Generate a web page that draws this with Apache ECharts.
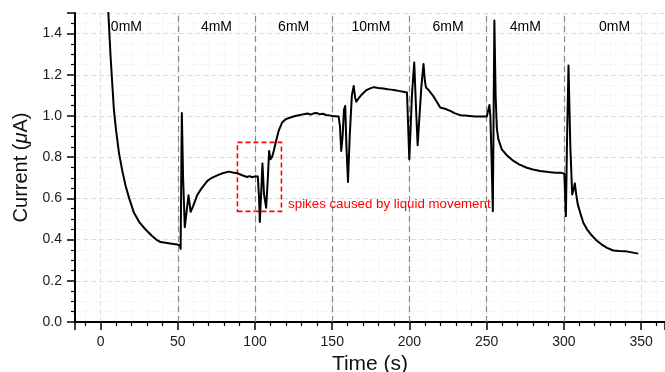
<!DOCTYPE html>
<html>
<head>
<meta charset="utf-8">
<script src="https://cdn.jsdelivr.net/npm/echarts@6/dist/echarts.min.js"></script>
<style>
html,body{margin:0;padding:0;background:#fff;}
#chart{width:665px;height:372px;}
</style>
</head>
<body>
<div id="chart"></div>
<script>
// ---- data ----
const timeS = [
  4, 5, 6.5, 8.6, 10, 11.9, 14, 16.2, 18.5, 21.6, 25, 29.1, 33, 36, 38.8, 42, 46, 49.6, 51.3,
  51.8, 52.6, 53.4, 54.5, 55.3, 56.9, 58.3, 60, 62.5, 65, 69, 72, 75.5, 79, 83, 85.5, 88.4, 90.5, 92.5, 94.9, 96.5, 98, 100, 101.8,
  102.6, 103.1, 103.8, 104.8, 105.8, 107.2, 108.3, 109.1, 110, 111, 112.1, 113.5, 115.3, 117.5, 120, 122.9, 126, 128.5, 131.5, 134, 136, 138, 140.2, 142, 144, 146, 148, 150, 152, 154.1,
  155, 155.8, 156.7, 157.6, 158.4, 159.2, 160.2, 161.3, 162.7, 163.9, 164.8, 165.6, 167, 169.3, 172, 174.6, 177, 180, 183, 186, 188, 190.8, 193, 196, 198.4, 199.3,
  199.9, 200.8, 201.6, 203.1, 204.2, 205.3, 206.5, 207.8, 209.1, 210, 210.7, 212.5, 215.6, 218, 219.9, 223, 226.4, 229.5, 232.9, 236, 239, 242.6, 246, 250.1, 251.3,
  251.8, 252.4, 253.3, 254, 254.5, 255, 255.8, 256.6, 257.6, 259.8, 263, 267.4, 271, 276, 280, 284.6, 290, 294.3, 298.6, 300.3,
  300.9, 301.3, 302.1, 303, 304.2, 305.4, 306.2, 307.1, 308, 309, 310.8, 312.6, 315, 318, 321, 324.5, 328, 332, 336, 339.6, 344, 348.2
];
const currentUA = [
  1.66, 1.50, 1.28, 1.03, 0.93, 0.82, 0.735, 0.66, 0.60, 0.53, 0.485, 0.449, 0.42, 0.40, 0.388, 0.385, 0.38, 0.376, 0.372,
  0.355, 1.014, 0.70, 0.46, 0.457, 0.615, 0.535, 0.565, 0.615, 0.645, 0.684, 0.70, 0.712, 0.722, 0.73, 0.726, 0.722, 0.716, 0.71, 0.704, 0.708, 0.703, 0.707, 0.706,
  0.60, 0.485, 0.60, 0.77, 0.62, 0.555, 0.70, 0.83, 0.79, 0.80, 0.83, 0.875, 0.928, 0.968, 0.985, 0.993, 1.0, 1.004, 1.009, 1.012, 1.007, 1.013, 1.014, 1.008, 1.011, 1.005, 1.003, 1.0, 0.999, 0.998,
  0.95, 0.83, 0.90, 1.03, 1.049, 0.85, 0.68, 0.90, 1.10, 1.146, 1.09, 1.069, 1.085, 1.106, 1.125, 1.134, 1.14, 1.136, 1.134, 1.13, 1.128, 1.125, 1.122, 1.118, 1.114, 1.114,
  0.79, 0.95, 1.10, 1.26, 1.05, 0.858, 1.0, 1.15, 1.252, 1.17, 1.139, 1.125, 1.095, 1.065, 1.041, 1.035, 1.025, 1.013, 1.004, 1.002, 1.0, 0.998, 0.998, 0.998, 0.998,
  1.053, 1.0, 0.757, 0.538, 1.0, 1.463, 1.1, 0.94, 0.887, 0.838, 0.81, 0.782, 0.765, 0.749, 0.74, 0.733, 0.728, 0.725, 0.724, 0.72,
  0.60, 0.514, 0.9, 1.245, 0.85, 0.619, 0.64, 0.673, 0.62, 0.571, 0.525, 0.482, 0.45, 0.421, 0.397, 0.376, 0.36, 0.347, 0.345, 0.344, 0.338, 0.332
];
const changeTimes = [50, 100, 150, 200, 250, 300];
const concLabels = ['0mM', '4mM', '6mM', '10mM', '6mM', '4mM', '0mM'];
const concLabelX = [16.7, 75, 125, 175, 225, 275, 332.8];
const concLabelY = 1.432;
const xTickStep = 50;
const yTickStep = 0.2;
const annotationText = 'spikes caused by liquid movement';
const annotationBox = [[88.6, 0.537], [117.1, 0.872]];
const annotationTextPos = [121.4, 0.571];

// ---- chart ----
const FONT = 'Liberation Sans, Arial, Helvetica, sans-serif';
const chart = echarts.init(document.getElementById('chart'), null, {renderer: 'canvas'});
const lineData = timeS.map((t, i) => [t, currentUA[i]]);

chart.setOption({
  animation: false,
  backgroundColor: '#ffffff',
  textStyle: {fontFamily: FONT},
  grid: {left: 75, right: 0, top: 13, bottom: 50, containLabel: false, outerBoundsMode: 'none'},
  xAxis: {
    type: 'value',
    min: -16.6, max: 365.5,
    minInterval: xTickStep, maxInterval: xTickStep,
    name: 'Time (s)', nameLocation: 'middle', nameGap: 28,
    nameTextStyle: {fontSize: 21, color: '#111', fontFamily: FONT},
    axisLine: {onZero: false, lineStyle: {color: '#000', width: 2}},
    axisTick: {show: true, inside: false, length: 8, lineStyle: {color: '#000', width: 1.5}},
    minorTick: {show: true, splitNumber: 5, length: 4, lineStyle: {color: '#000', width: 1.2}},
    axisLabel: {
      showMinLabel: false, showMaxLabel: false, margin: 13, fontSize: 14, color: '#1a1a1a', fontFamily: FONT,
      formatter: v => (Math.abs(v % xTickStep) < 1e-6 ? String(Math.round(v)) : '')
    },
    splitLine: {show: true, lineStyle: {color: '#dedede', type: [5, 3], width: 1}},
    minorSplitLine: {show: true, lineStyle: {color: '#ececec', type: [1, 2], width: 1}}
  },
  yAxis: {
    type: 'value',
    min: 0, max: 1.5, interval: yTickStep,
    name: 'Current ({i|μ}A)', nameLocation: 'middle', nameGap: 39,
    nameTextStyle: {fontSize: 20, color: '#111', fontFamily: FONT,
      rich: {i: {fontStyle: 'italic', fontSize: 20, color: '#111', fontFamily: FONT}}},
    axisLine: {show: true, onZero: false, lineStyle: {color: '#000', width: 2}},
    axisTick: {show: true, inside: false, length: 8, lineStyle: {color: '#000', width: 1.5}},
    minorTick: {show: true, splitNumber: 4, length: 4, lineStyle: {color: '#000', width: 1.2}},
    axisLabel: {
      showMaxLabel: false, margin: 13, fontSize: 14, color: '#1a1a1a', fontFamily: FONT,
      formatter: v => (v > 1.45 ? '' : v.toFixed(1))
    },
    splitLine: {show: true, lineStyle: {color: '#dedede', type: [5, 3], width: 1}},
    minorSplitLine: {show: true, lineStyle: {color: '#ececec', type: [1, 2], width: 1}}
  },
  series: [
    {
      type: 'line',
      data: lineData,
      showSymbol: false,
      symbol: 'none',
      clip: true,
      silent: true,
      z: 5,
      lineStyle: {color: '#000', width: 2, join: 'round'},
      markLine: {
        silent: true,
        symbol: ['none', 'none'],
        label: {show: false},
        lineStyle: {color: '#888', type: [6, 4], width: 1.2},
        emphasis: {disabled: true},
        data: changeTimes.map(t => ({xAxis: t}))
      },
      markArea: {
        silent: true,
        itemStyle: {color: 'rgba(0,0,0,0)', borderColor: '#ff0000', borderWidth: 1.6, borderType: [5, 3]},
        label: {show: false},
        data: [[{coord: annotationBox[0]}, {coord: annotationBox[1]}]]
      }
    },
    {
      type: 'scatter',
      silent: true,
      symbolSize: 0,
      z: 6,
      itemStyle: {color: '#000', opacity: 1},
      label: {show: true, position: 'inside', formatter: '{b}', fontSize: 14, color: '#000', opacity: 1, fontFamily: FONT,
        align: 'center', verticalAlign: 'middle'},
      data: concLabels.map((s, i) => ({name: s, value: [concLabelX[i], concLabelY]}))
    },
    {
      type: 'scatter',
      silent: true,
      symbolSize: 0,
      z: 6,
      itemStyle: {color: '#ff0000', opacity: 1},
      label: {show: true, position: 'inside', formatter: '{b}', fontSize: 13.3, color: '#ff0000', opacity: 1, fontFamily: FONT,
        align: 'left', verticalAlign: 'middle'},
      data: [{name: annotationText, value: annotationTextPos}]
    }
  ]
});
</script>
</body>
</html>
